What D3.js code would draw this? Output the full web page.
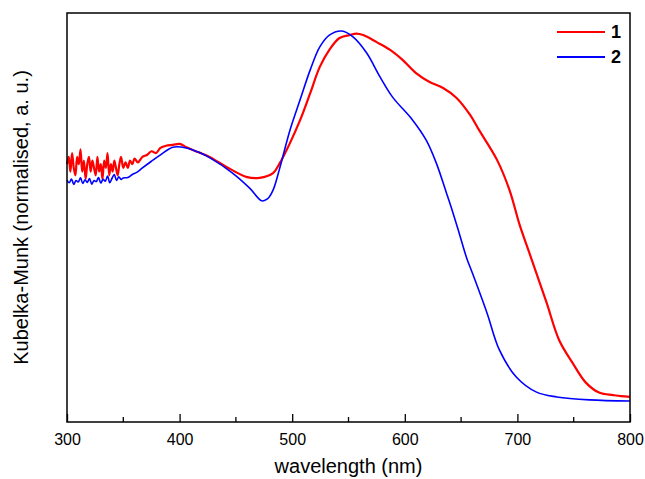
<!DOCTYPE html>
<html>
<head>
<meta charset="utf-8">
<script src="https://cdn.jsdelivr.net/npm/d3@7"></script>
<style>
  html, body { margin: 0; padding: 0; background: #fff; }
  svg text { font-family: "Liberation Sans", Arial, sans-serif; }
</style>
</head>
<body>
<div id="chart"></div>
<script>
// wavelength (nm) / normalised Kubelka-Munk
const redWl = [300, 301.5, 303, 304.5, 306, 307.5, 309, 310.5, 312, 313.5, 315, 316.5, 318, 319.5, 321, 322.5, 324, 325.5,
  327, 328.5, 330, 331.5, 333, 334.5, 336, 337.5, 339, 340.5, 342, 343.5, 345, 346.5, 348, 350, 352, 354, 356, 358, 360,
  363, 367, 371, 375, 379, 383, 388, 394, 400, 406, 417, 427, 442, 460, 471, 483, 489, 498, 507, 516, 524.5, 533, 542, 551, 557, 563,
  575, 587, 598, 610, 622, 634, 646, 658, 666, 682, 693, 702, 711, 717, 726, 737, 749, 761, 773, 785, 792, 800];
const redKM = [0.64, 0.66, 0.62, 0.67, 0.63, 0.61, 0.66, 0.64, 0.68, 0.62, 0.65, 0.60, 0.64, 0.66, 0.62, 0.65, 0.63, 0.61,
  0.66, 0.62, 0.64, 0.60, 0.65, 0.63, 0.67, 0.61, 0.64, 0.62, 0.65, 0.63, 0.61, 0.64, 0.66, 0.63, 0.645, 0.63, 0.65, 0.64, 0.655,
  0.645, 0.66, 0.665, 0.675, 0.67, 0.684, 0.69, 0.692, 0.695, 0.686, 0.672, 0.659, 0.632, 0.605, 0.603, 0.616, 0.643, 0.697, 0.759, 0.832, 0.903, 0.949, 0.981, 0.989, 0.993, 0.989,
  0.970, 0.949, 0.922, 0.886, 0.862, 0.846, 0.819, 0.773, 0.732, 0.651, 0.570, 0.476, 0.397, 0.344, 0.265, 0.165, 0.103, 0.049, 0.022, 0.016, 0.013, 0.011];

const blueWl = [300, 302, 304, 306, 308, 310, 312, 314, 316, 318, 320, 322, 324, 326, 328, 330, 332, 334, 336, 338, 340,
  342, 344, 346, 348, 350, 354, 358, 362, 367, 375, 383, 394, 406, 417, 427, 447, 462, 473, 478, 483, 489, 498, 507, 516, 524.5,
  533, 544, 554, 566, 578, 589, 607, 619, 628, 637, 642, 647, 655, 660, 673, 684, 699, 717, 735, 764, 800];
const blueKM = [0.597, 0.590, 0.600, 0.585, 0.596, 0.592, 0.603, 0.588, 0.598, 0.591, 0.601, 0.586, 0.596, 0.593, 0.604, 0.589,
  0.599, 0.594, 0.608, 0.590, 0.602, 0.612, 0.596, 0.606, 0.599, 0.603, 0.604, 0.612, 0.618, 0.630, 0.648, 0.665, 0.686, 0.684, 0.672,
  0.657, 0.616, 0.576, 0.541, 0.546, 0.570, 0.630, 0.732, 0.814, 0.895, 0.957, 0.989, 1.0, 0.984, 0.941,
  0.876, 0.822, 0.759, 0.705, 0.643, 0.562, 0.516, 0.467, 0.386, 0.346, 0.238, 0.138, 0.065, 0.024, 0.011, 0.003, 0.0];

const xTicks = [300, 400, 500, 600, 700, 800];
const xMinorTicks = [350, 450, 550, 650, 750];
const seriesNames = ['1', '2'];
const seriesColors = ['#ff0000', '#0000ff'];

const width = 645, height = 479;
const margin = {left: 67, right: 15, top: 13, bottom: 57};

const svg = d3.select('#chart').append('svg')
  .attr('width', width)
  .attr('height', height);

const xScale = d3.scaleLinear()
  .domain([300, 800])
  .range([margin.left, width - margin.right]);

const yScale = d3.scaleLinear()
  .domain([0, 1])
  .range([401, 31]);

const plotBottom = height - margin.bottom;

const line = d3.line()
  .x(d => xScale(d[0]))
  .y(d => yScale(d[1]))
  .curve(d3.curveCatmullRom.alpha(0.5));

const series = [
  d3.zip(redWl, redKM),
  d3.zip(blueWl, blueKM)
];

svg.append('g')
  .selectAll('path')
  .data(series)
  .join('path')
  .attr('d', d => line(d))
  .attr('fill', 'none')
  .attr('stroke', (d, i) => seriesColors[i])
  .attr('stroke-width', (d, i) => i === 0 ? 2.2 : 1.6)
  .attr('stroke-linejoin', 'round');

// x axis, ticks pointing inwards
const xAxis = svg.append('g')
  .attr('transform', `translate(0,${plotBottom})`)
  .call(d3.axisBottom(xScale).tickValues(xTicks).tickSizeInner(-8).tickSizeOuter(0).tickPadding(12));
xAxis.select('.domain').remove();
xAxis.selectAll('text').attr('font-size', 16).attr('fill', '#000');
xAxis.selectAll('line').attr('stroke', '#000').attr('stroke-width', 1.3);

svg.append('g')
  .selectAll('line')
  .data(xMinorTicks)
  .join('line')
  .attr('x1', d => xScale(d))
  .attr('x2', d => xScale(d))
  .attr('y1', plotBottom)
  .attr('y2', plotBottom - 5)
  .attr('stroke', '#000')
  .attr('stroke-width', 1.3);

// frame
svg.append('rect')
  .attr('x', margin.left)
  .attr('y', margin.top)
  .attr('width', width - margin.right - margin.left)
  .attr('height', plotBottom - margin.top)
  .attr('fill', 'none')
  .attr('stroke', '#000')
  .attr('stroke-width', 1.5);

svg.append('text')
  .attr('x', (margin.left + width - margin.right) / 2)
  .attr('y', 473)
  .attr('text-anchor', 'middle')
  .attr('font-size', 20)
  .text('wavelength (nm)');

svg.append('text')
  .attr('transform', `translate(28,${(margin.top + plotBottom) / 2}) rotate(-90)`)
  .attr('text-anchor', 'middle')
  .attr('font-size', 20)
  .text('Kubelka-Munk (normalised, a. u.)');

// legend
const legend = svg.append('g')
  .selectAll('g')
  .data(seriesNames)
  .join('g')
  .attr('transform', (d, i) => `translate(557,${32 + i * 25})`);
legend.append('line')
  .attr('x1', 0).attr('x2', 48)
  .attr('stroke', (d, i) => seriesColors[i])
  .attr('stroke-width', 1.8);
legend.append('text')
  .attr('x', 54)
  .attr('y', 6)
  .attr('font-size', 18)
  .attr('font-weight', 'bold')
  .text(d => d);
</script>
</body>
</html>
